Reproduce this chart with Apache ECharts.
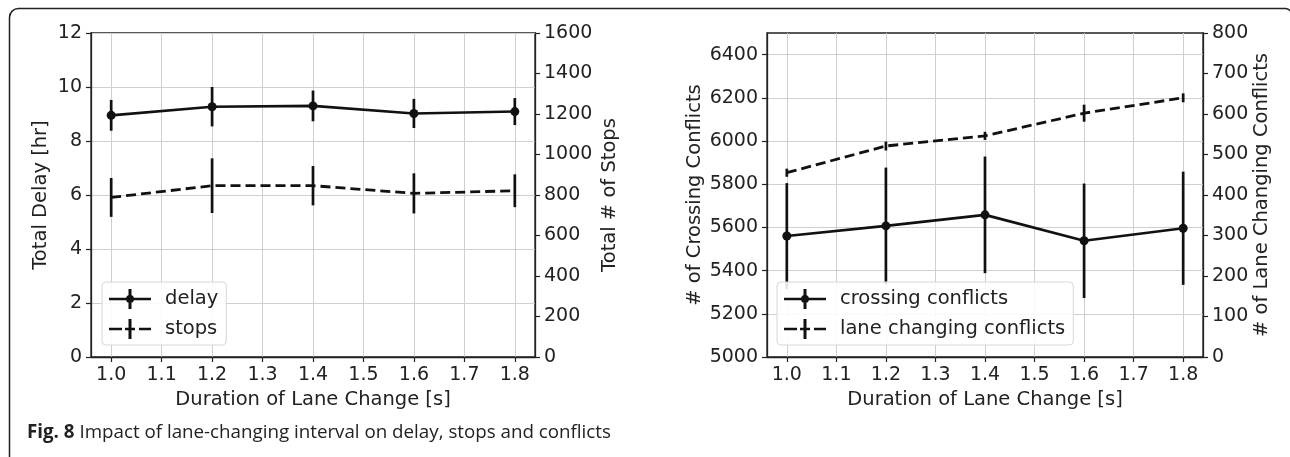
<!DOCTYPE html>
<html><head><meta charset="utf-8">
<script src="https://cdn.jsdelivr.net/npm/echarts@6/dist/echarts.min.js"></script>
<style>html,body{margin:0;padding:0;background:#fff}#c{width:1290px;height:457px}</style>
</head><body><div id="c"></div>
<script>
// ---- data ----
const durations = [1.0, 1.2, 1.4, 1.6, 1.8];
const xTicks = [1.0, 1.1, 1.2, 1.3, 1.4, 1.5, 1.6, 1.7, 1.8];
const delayVals = [8.95, 9.27, 9.30, 9.02, 9.09];
const delayErr = [0.57, 0.73, 0.57, 0.54, 0.50];
const stopsVals = [788, 846, 846, 808, 821];
const stopsErr = [96, 135, 97, 99, 81];
const crossingVals = [5560, 5607, 5658, 5538, 5596];
const crossingErr = [245, 270, 270, 265, 262];
const laneVals = [455, 521, 546, 602, 640];
const laneErr = [10, 11, 10, 21, 11];
const crossingTicks = [5000, 5200, 5400, 5600, 5800, 6000, 6200, 6400];

const ff = 'DejaVu Sans';
const txt = '#222';
const ink = '#111';

function pts(vals) { return durations.map((d, i) => [d, vals[i]]); }
function errData(vals, errs) { return durations.map((d, i) => [d, vals[i] - errs[i], vals[i] + errs[i]]); }
function errSeries(name, vals, errs, xi, yi) {
  return {
    type: 'custom', name: name, xAxisIndex: xi, yAxisIndex: yi, z: 3,
    data: errData(vals, errs), encode: { x: 0, y: [1, 2] },
    renderItem: function (params, api) {
      const x = api.value(0);
      const p1 = api.coord([x, api.value(1)]);
      const p2 = api.coord([x, api.value(2)]);
      return { type: 'line', shape: { x1: p1[0], y1: p1[1], x2: p2[0], y2: p2[1] },
        style: { stroke: ink, lineWidth: 2.7 } };
    }
  };
}
function lineSeries(name, vals, xi, yi, dashed) {
  return {
    type: 'line', name: name, xAxisIndex: xi, yAxisIndex: yi, z: 4,
    data: pts(vals), color: ink,
    symbol: dashed ? 'none' : 'circle', symbolSize: 9,
    itemStyle: { color: ink },
    lineStyle: { color: ink, width: dashed ? 2.8 : 2.6, type: dashed ? [10, 5] : 'solid' }
  };
}
function xAxisCfg(gi) {
  return {
    type: 'value', gridIndex: gi, min: 0.96, max: 1.84,
    name: 'Duration of Lane Change [s]', nameLocation: 'middle', nameGap: 33,
    nameTextStyle: { fontSize: 19.5, color: txt, fontFamily: ff },
    axisLine: { show: true, onZero: false, lineStyle: { color: '#222', width: 1.3 } },
    axisTick: { show: true, length: 5, customValues: xTicks, lineStyle: { color: '#222', width: 1.2 } },
    axisLabel: { customValues: xTicks, formatter: v => Number(v).toFixed(1), fontSize: 19, color: txt, margin: 9, fontFamily: ff },
    splitLine: { show: true, lineStyle: { color: '#cfcfcf', width: 1 } }
  };
}
function yAxisCfg(gi, pos, min, max, interval, name, gap, split) {
  return {
    type: 'value', gridIndex: gi, position: pos, min: min, max: max, interval: interval,
    name: name, nameLocation: 'middle', nameGap: gap, nameRotate: 90,
    nameTextStyle: { fontSize: 19.5, color: txt, fontFamily: ff },
    axisLine: { show: true, onZero: false, lineStyle: { color: '#222', width: 1.3 } },
    axisTick: { show: true, length: 5, lineStyle: { color: '#222', width: 1.2 } },
    axisLabel: { fontSize: 19, color: txt, margin: 9, fontFamily: ff, formatter: v => String(v) },
    splitLine: { show: split, lineStyle: { color: '#cfcfcf', width: 1 } }
  };
}
const iconSolid = 'path://M0,8.7h42v2.6h-42z M19.5,0h3v20h-3z M25,10a4,4 0 1,1 -8,0a4,4 0 1,1 8,0z';
const iconDash = 'path://M0,8.7h13v2.6h-13z M16,8.7h10v2.6h-10z M30,8.7h12v2.6h-12z M19.5,0h3v20h-3z';
function legendCfg(left, names) {
  return {
    left: left, top: 282, orient: 'vertical', itemWidth: 42, itemHeight: 20, itemGap: 10,
    padding: [7, 8, 6, 7], backgroundColor: 'rgba(255,255,255,0.88)', borderColor: '#d6d6d6',
    borderWidth: 1, borderRadius: 4, z: 10,
    textStyle: { fontSize: 19.5, color: txt, fontFamily: ff, padding: [0, 0, 0, 9] },
    data: [{ name: names[0], icon: iconSolid }, { name: names[1], icon: iconDash }]
  };
}

const chart = echarts.init(document.getElementById('c'), null, { renderer: 'canvas' });
const yCross = yAxisCfg(1, 'left', 5000, 6500, 200, '# of Crossing Conflicts', 62, true);
yCross.axisLabel.customValues = crossingTicks;
yCross.axisTick.customValues = crossingTicks;
chart.setOption({
  animation: false,
  backgroundColor: '#fff',
  title: {
    left: 27, top: 423, padding: 0,
    text: '{b|Fig. 8} Impact of lane-changing interval on delay, stops and conflicts',
    textStyle: { fontSize: 18.75, fontFamily: 'Open Sans', color: '#222', fontWeight: 'normal',
      rich: { b: { fontWeight: 'bold', fontSize: 18.75, fontFamily: 'Open Sans', color: '#222' } } }
  },
  graphic: [{
    type: 'rect', silent: true, z: -1,
    shape: { x: 9.5, y: 8.5, width: 1282, height: 470, r: [9, 6, 0, 0] },
    style: { fill: null, stroke: '#222', lineWidth: 1.5 }
  }],
  grid: [
    { left: 91, top: 33, width: 444, height: 324, show: true, borderColor: '#222', borderWidth: 1.3, backgroundColor: 'transparent' },
    { left: 767, top: 33, width: 436, height: 324, show: true, borderColor: '#222', borderWidth: 1.3, backgroundColor: 'transparent' }
  ],
  legend: [
    legendCfg(102, ['delay', 'stops']),
    legendCfg(777, ['crossing conflicts', 'lane changing conflicts'])
  ],
  xAxis: [xAxisCfg(0), xAxisCfg(1)],
  yAxis: [
    yAxisCfg(0, 'left', 0, 12, 2, 'Total Delay [hr]', 40, true),
    yAxisCfg(0, 'right', 0, 1600, 200, 'Total # of Stops', 65, false),
    yCross,
    yAxisCfg(1, 'right', 0, 800, 100, '# of Lane Changing Conflicts', 48, false)
  ],
  series: [
    errSeries('delayErr', delayVals, delayErr, 0, 0),
    lineSeries('delay', delayVals, 0, 0, false),
    errSeries('stopsErr', stopsVals, stopsErr, 0, 1),
    lineSeries('stops', stopsVals, 0, 1, true),
    errSeries('crossErr', crossingVals, crossingErr, 1, 2),
    lineSeries('crossing conflicts', crossingVals, 1, 2, false),
    errSeries('laneErr', laneVals, laneErr, 1, 3),
    lineSeries('lane changing conflicts', laneVals, 1, 3, true)
  ]
});
</script>
</body></html>
